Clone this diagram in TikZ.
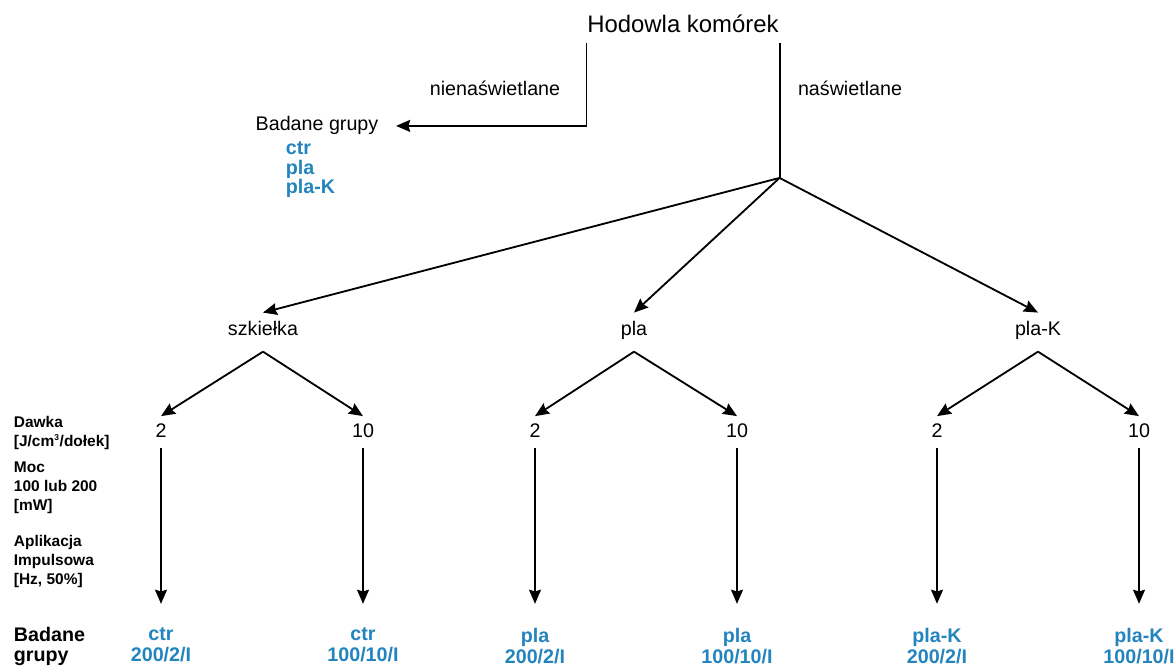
\documentclass[tikz,border=0pt]{standalone}
\usepackage{fontspec}
\setmainfont{Liberation Sans}
\usepackage{xcolor}
\usepackage{tikz}
\usetikzlibrary{arrows.meta}
\usetikzlibrary{calc}
\usetikzlibrary{positioning}

\definecolor{grpblue}{RGB}{35,132,190}

\begin{document}
\begin{tikzpicture}
[
	x = 0.025cm, y = -0.025cm,
	title/.style	= {font = \fontsize{17}{20}\selectfont, inner sep = 0pt, text depth = 6.4pt, anchor = base},
	note/.style	= {font = \fontsize{14}{16}\selectfont, inner sep = 0pt, anchor = base},
	branch/.style	= {note, text height = 16pt, text depth = 10.5pt},
	dose/.style	= {note, text height = 14.2pt, text depth = 7pt},
	grp/.style	= {font = \fontsize{14}{15}\selectfont\bfseries, text = grpblue, align = center, inner sep = 0pt, anchor = north},
	grplist/.style	= {font = \fontsize{14}{13.8}\selectfont\bfseries, text = grpblue, align = left, inner sep = 0pt, anchor = north west},
	side/.style	= {font = \fontsize{11}{13.5}\selectfont\bfseries, align = left, inner sep = 0pt, anchor = north west},
	sidebig/.style	= {side, font = \fontsize{14}{14.5}\selectfont\bfseries},
	every path/.style = {line width = 1.3pt},
	arrow/.style	= {-{Stealth[length = 10pt, width = 8.5pt, inset = 1.2pt]}},
	down/.style	= {arrow, shorten > = 16.5pt},
]

	\useasboundingbox (0, 0) rectangle (1175, 668);

	\node (hodowla) [title] at (683, 33) {Hodowla komórek};
	%
	\node (nien) [note] at (495, 96) {nienaświetlane};
	\node (nasw) [note] at (850, 96) {naświetlane};
	\node (badane) [note] at (317, 131) {Badane grupy};
	\node (lista) [grplist] at (285, 141) {ctr\\pla\\pla-K};
	%
	\path (hodowla.south east) ++(0, 135) coordinate (split);

	\node (szk) [branch] at (263, 336) {szkiełka};
	\node (pla) [branch] at (634, 336) {pla};
	\node (plaK) [branch] at (1038, 336) {pla-K};
	%
	\node (szk2) [dose] at (161, 437) {2};
	\node (szk10) [dose] at (363, 437) {10};
	\node (pla2) [dose] at (535, 437) {2};
	\node (pla10) [dose] at (737, 437) {10};
	\node (plaK2) [dose] at (937, 437) {2};
	\node (plaK10) [dose] at (1139, 437) {10};
	%
	\node (szkG2) [grp] at (161, 627) {ctr\\200/2/I};
	\node (szkG10) [grp] at (363, 627) {ctr\\100/10/I};
	\node (plaG2) [grp] at (535, 627) {pla\\200/2/I};
	\node (plaG10) [grp] at (737, 627) {pla\\100/10/I};
	\node (plaKG2) [grp] at (937, 627) {pla-K\\200/2/I};
	\node (plaKG10) [grp] at (1139, 627) {pla-K\\100/10/I};

	% opisy po lewej
	\node (dawka) [side] at (13, 415) {Dawka\\{[J/cm\textsuperscript{\fontsize{6}{6}\selectfont 3}/dołek]}};
	\node (moc) [side] at (13, 461) {Moc\\100 lub 200\\{[mW]}};
	\node (aplik) [side] at (13, 534) {Aplikacja\\Impulsowa\\{[Hz, 50\%]}};
	\node (badane2) [sidebig] at (13, 626) {Badane\\grupy};

	\draw [arrow, shorten > = 12pt] (hodowla.south west) |- (badane.east);
	\draw (hodowla.south east) -- (split);
	%
	\draw [arrow] (split) -- (szk.north);
	\draw [arrow] (split) -- (pla.north);
	\draw [arrow] (split) -- (plaK.north);

	\draw [arrow] (szk.south) -- (szk2.north);
	\draw [arrow] (szk.south) -- (szk10.north);
	\draw [arrow] (pla.south) -- (pla2.north);
	\draw [arrow] (pla.south) -- (pla10.north);
	\draw [arrow] (plaK.south) -- (plaK2.north);
	\draw [arrow] (plaK.south) -- (plaK10.north);
	%
	\draw [down] (szk2.south) -- (szkG2.north);
	\draw [down] (szk10.south) -- (szkG10.north);
	\draw [down] (pla2.south) -- (plaG2.north);
	\draw [down] (pla10.south) -- (plaG10.north);
	\draw [down] (plaK2.south) -- (plaKG2.north);
	\draw [down] (plaK10.south) -- (plaKG10.north);

\end{tikzpicture}
\end{document}
